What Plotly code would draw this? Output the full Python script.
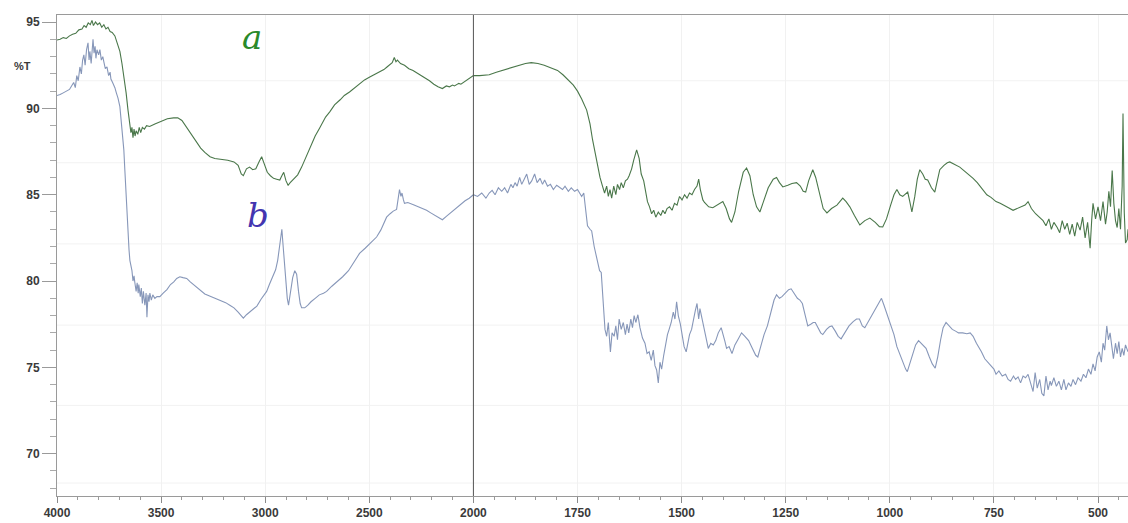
import plotly.graph_objects as go

# ---------------- data (wavenumber cm-1, %T) ----------------
a_wn = [4000,3985,3970,3955,3940,3925,3910,3895,3880,3870,3860,3850,3840,3832,3825,3815,3805,3795,3785,3775,
        3765,3755,3745,3735,3722,3710,3698,3688,3679,3668,3659,3650,3645,3640,3635,3630,3625,3620,3612,3605,
        3598,3590,3580,3570,3555,3530,3500,3470,3440,3420,3400,3386,3360,3338,3310,3290,3265,3242,3210,3180,
        3150,3130,3115,3105,3090,3075,3060,3045,3030,3017,3005,2990,2975,2960,2945,2930,2920,2911,2900,2890,
        2880,2868,2855,2844,2825,2811,2790,2777,2760,2739,2710,2690,2667,2640,2620,2595,2570,2545,2523,2500,
        2475,2451,2430,2415,2403,2390,2380,2372,2365,2350,2331,2310,2290,2269,2250,2230,2211,2190,2170,2149,
        2130,2115,2100,2091,2070,2060,2043,2025,2010,2000,1985,1970,1962,1945,1925,1905,1890,1875,1861,1845,
        1830,1815,1798,1785,1769,1760,1750,1740,1728,1720,1714,1708,1702,1696,1690,1685,1680,1676,1672,1668,
        1663,1658,1654,1649,1645,1640,1635,1630,1626,1620,1615,1608,1602,1597,1591,1586,1582,1577,1572,1567,
        1562,1556,1550,1545,1540,1535,1529,1523,1517,1511,1505,1499,1493,1487,1481,1475,1469,1463,1459,1455,
        1449,1445,1435,1425,1415,1401,1393,1385,1380,1372,1363,1352,1344,1336,1328,1320,1312,1303,1292,1280,
        1272,1265,1257,1245,1235,1224,1215,1208,1202,1195,1185,1178,1168,1160,1151,1140,1127,1120,1113,1105,
        1096,1085,1072,1060,1048,1035,1025,1017,1008,998,990,983,976,969,963,957,952,947,940,934,
        928,921,915,909,900,892,886,880,870,862,856,848,840,832,822,812,800,790,780,767,
        757,745,735,725,715,704,695,685,675,668,660,650,640,632,625,618,612,606,598,592,
        586,580,574,568,562,556,550,543,537,531,525,519,515,512,506,500,494,488,482,478,
        474,470,466,462,458,454,450,446,442,440,437,434,430,428]
a_t = [93.96,94.0,94.1,94.05,94.2,94.3,94.35,94.55,94.6,94.8,94.7,94.95,94.85,95.1,94.8,95.0,94.85,94.95,94.7,94.85,
       94.6,94.7,94.45,94.4,94.2,93.8,93.3,92.6,91.9,90.9,89.9,89.0,88.6,88.9,88.3,88.8,88.4,88.7,88.5,88.9,
       88.6,88.9,88.8,89.0,88.95,89.1,89.25,89.4,89.45,89.45,89.3,89.05,88.6,88.2,87.7,87.45,87.2,87.1,87.05,87.0,
       86.9,86.7,86.2,86.1,86.5,86.6,86.45,86.5,86.9,87.2,86.8,86.3,86.1,85.95,85.9,85.85,86.1,86.3,85.8,85.55,
       85.7,85.85,86.0,86.15,86.6,87.0,87.6,87.9,88.4,88.85,89.5,89.8,90.2,90.5,90.75,90.95,91.2,91.45,91.65,91.8,
       91.95,92.1,92.25,92.4,92.5,92.65,92.95,92.7,92.8,92.6,92.5,92.3,92.2,92.05,91.9,91.75,91.6,91.4,91.25,91.15,
       91.3,91.25,91.35,91.3,91.45,91.4,91.55,91.7,91.8,91.9,91.9,91.95,91.95,92.1,92.25,92.4,92.5,92.6,92.65,92.6,
       92.5,92.35,92.2,91.95,91.6,91.35,91.0,90.55,89.9,89.1,88.2,87.4,86.7,86.0,85.5,85.1,85.5,84.9,85.3,84.8,
       85.5,85.0,85.6,85.3,85.7,85.4,85.8,85.9,86.1,86.5,87.0,87.6,87.1,86.2,85.8,85.0,84.6,84.3,83.9,84.1,
       83.7,84.0,83.8,84.1,83.9,84.2,84.3,84.1,84.5,84.4,84.9,84.7,85.0,84.8,85.1,85.0,85.3,85.5,85.9,85.3,
       84.7,84.55,84.3,84.25,84.4,84.6,84.2,83.6,83.4,84.0,85.2,86.3,86.55,86.1,85.0,84.3,84.0,84.6,85.4,85.9,
       86.0,85.7,85.45,85.55,85.65,85.7,85.5,85.2,85.15,85.8,86.45,86.0,85.0,84.2,83.95,84.2,84.4,84.6,84.8,84.6,
       84.3,83.8,83.25,83.5,83.65,83.4,83.15,83.13,83.6,84.4,85.0,85.3,85.0,84.9,85.05,85.15,84.6,84.0,84.9,85.9,
       86.45,86.2,85.9,85.85,85.4,85.15,85.8,86.45,86.7,86.85,86.9,86.8,86.7,86.6,86.4,86.2,85.95,85.7,85.4,85.0,
       84.85,84.6,84.5,84.35,84.25,84.1,84.2,84.3,84.4,84.6,84.2,83.9,83.7,83.5,83.2,83.6,83.0,83.4,83.1,82.8,
       83.5,83.0,83.35,82.7,83.3,82.6,83.4,82.95,83.7,82.5,83.4,81.9,83.6,84.5,83.6,84.3,83.5,84.6,83.3,84.0,
       85.2,84.3,86.4,84.5,83.5,83.1,84.2,83.0,85.5,89.7,84.0,82.2,82.4,83.0]

b_wn = [4000,3985,3970,3955,3940,3930,3920,3912,3905,3898,3890,3883,3877,3871,3865,3858,3851,3846,3842,3836,
        3831,3827,3822,3817,3813,3808,3800,3794,3787,3780,3775,3768,3760,3752,3745,3741,3733,3722,3715,3707,
        3698,3693,3688,3683,3679,3674,3668,3663,3659,3654,3650,3645,3640,3635,3630,3626,3620,3615,3610,3607,
        3600,3595,3590,3585,3578,3572,3568,3563,3558,3554,3547,3540,3530,3520,3506,3490,3472,3455,3439,3425,
        3410,3395,3377,3360,3345,3329,3310,3290,3270,3250,3230,3210,3190,3170,3150,3130,3115,3105,3090,3070,
        3055,3040,3020,3005,2993,2980,2965,2950,2940,2932,2925,2920,2915,2910,2906,2900,2894,2888,2880,2868,
        2858,2849,2840,2832,2825,2810,2795,2780,2760,2740,2720,2705,2680,2655,2628,2600,2575,2547,2520,2490,
        2465,2445,2430,2417,2400,2385,2369,2360,2355,2348,2343,2336,2331,2315,2300,2285,2265,2245,2225,2205,
        2185,2165,2149,2130,2110,2090,2077,2060,2040,2020,2000,1990,1980,1970,1962,1955,1948,1940,1932,1925,
        1918,1910,1905,1900,1895,1889,1884,1878,1872,1866,1860,1853,1847,1840,1834,1829,1822,1815,1808,1800,
        1793,1786,1780,1772,1765,1757,1750,1745,1740,1735,1730,1726,1720,1716,1710,1702,1697,1693,1688,1684,
        1680,1676,1671,1667,1662,1658,1654,1650,1645,1640,1635,1631,1627,1622,1618,1614,1610,1605,1600,1594,
        1588,1583,1578,1573,1568,1564,1560,1556,1552,1548,1543,1538,1534,1530,1525,1520,1516,1512,1508,1503,
        1498,1494,1489,1485,1481,1476,1471,1467,1463,1459,1456,1452,1449,1444,1440,1436,1430,1424,1418,1412,
        1405,1400,1396,1392,1386,1379,1372,1365,1356,1348,1339,1330,1322,1317,1310,1302,1294,1285,1278,1272,
        1265,1259,1250,1243,1237,1230,1222,1216,1210,1203,1197,1190,1184,1179,1172,1166,1161,1152,1145,1139,
        1131,1124,1117,1108,1098,1088,1080,1073,1066,1060,1052,1042,1032,1025,1020,1014,1006,998,990,983,
        975,968,962,958,952,945,938,931,925,919,913,905,898,891,885,878,872,865,858,850,
        842,835,825,815,807,800,792,786,780,772,765,757,750,745,738,730,722,716,710,703,
        698,692,686,680,674,668,662,656,651,646,640,635,630,625,620,615,612,606,600,594,
        588,582,577,571,565,560,554,548,541,535,529,523,517,512,507,502,497,492,488,484,
        479,475,471,467,463,458,454,450,446,442,438,434,430,428]
b_t = [90.75,90.8,90.9,91.0,91.1,91.3,91.5,91.2,91.9,91.6,92.4,92.0,92.8,93.1,92.5,93.4,93.8,92.8,93.3,92.6,
       93.5,94.0,93.2,93.6,92.9,93.4,93.1,93.4,92.8,93.0,92.7,92.3,92.4,91.9,92.1,91.7,91.5,91.2,90.9,90.6,
       90.1,89.5,89.0,88.3,87.6,86.4,84.8,83.6,82.5,81.8,81.2,80.9,80.6,80.0,80.3,79.9,79.4,79.9,79.3,79.8,
       79.1,79.6,78.7,79.4,78.6,79.3,77.9,79.2,78.8,79.3,78.9,79.2,79.0,79.1,79.1,79.3,79.5,79.8,79.95,80.15,
       80.25,80.2,80.15,79.95,79.8,79.65,79.45,79.25,79.15,79.05,78.95,78.85,78.75,78.6,78.45,78.2,77.95,77.85,78.05,78.25,
       78.4,78.55,78.95,79.2,79.4,79.8,80.2,80.65,81.2,81.9,82.6,83.0,82.2,81.3,80.6,79.6,79.0,78.6,79.3,80.2,
       80.6,80.4,79.4,78.7,78.45,78.45,78.6,78.8,79.0,79.2,79.3,79.4,79.7,79.95,80.25,80.6,81.1,81.6,81.9,82.25,
       82.55,82.95,83.4,83.7,83.9,84.05,84.15,84.8,85.3,84.9,85.1,84.7,84.5,84.55,84.45,84.4,84.3,84.2,84.1,83.95,
       83.8,83.65,83.55,83.75,83.95,84.15,84.3,84.5,84.65,84.8,85.0,84.9,85.1,84.8,85.1,85.25,85.0,85.4,85.2,85.4,
       85.1,85.6,85.4,85.7,85.5,86.0,85.6,85.9,86.2,85.6,85.8,86.2,85.7,85.95,85.6,85.85,85.5,85.6,85.3,85.55,
       85.4,85.3,85.5,85.2,85.4,85.2,85.3,85.1,84.9,85.1,84.2,83.2,83.0,82.9,82.0,81.2,80.6,80.5,78.6,77.2,
       76.8,77.6,75.9,77.0,76.8,77.4,76.6,77.8,77.2,77.6,76.9,77.5,77.0,77.8,77.3,78.0,77.6,78.05,77.3,76.7,
       76.4,75.8,75.9,75.4,76.0,75.1,74.85,74.1,75.3,74.9,75.7,76.4,76.9,77.2,77.6,78.2,77.8,78.8,78.0,77.5,
       76.6,76.2,75.9,76.5,76.9,77.2,77.9,78.3,78.7,77.8,78.4,77.9,77.6,77.0,76.5,76.1,76.4,76.3,76.55,77.0,
       77.3,76.9,76.5,76.1,76.2,75.8,76.3,76.6,77.0,76.8,76.55,76.1,75.7,75.6,76.2,76.9,77.4,78.3,78.9,79.2,
       79.0,79.1,79.35,79.5,79.55,79.3,79.0,78.9,78.7,78.0,77.4,77.5,77.6,77.6,77.3,77.0,76.9,77.2,77.35,77.4,
       77.1,76.8,76.65,77.0,77.4,77.65,77.8,77.8,77.4,77.3,77.65,78.05,78.5,78.85,79.0,78.6,78.0,77.4,76.9,76.2,
       75.7,75.2,74.9,74.75,75.2,75.8,76.3,76.55,76.4,76.2,76.1,75.6,75.2,74.95,75.6,76.6,77.3,77.6,77.4,77.2,
       77.1,77.0,77.0,76.95,77.0,76.8,76.4,76.1,75.9,75.5,75.3,75.1,74.9,74.6,74.8,74.5,74.6,74.3,74.2,74.5,
       74.3,74.45,74.1,74.5,74.4,74.6,74.1,73.6,74.7,73.8,74.3,73.5,73.35,74.5,73.7,74.2,73.95,74.4,73.9,74.2,
       73.7,74.3,73.7,74.1,73.9,74.3,74.0,74.4,74.2,74.6,74.4,74.9,74.6,75.2,74.8,75.6,75.9,75.3,76.4,76.0,
       77.4,76.6,77.0,76.2,75.5,76.4,75.8,76.5,75.6,76.1,75.7,76.3,76.0,75.9]

x_tick_wn = [4000, 3500, 3000, 2500, 2000, 1750, 1500, 1250, 1000, 750, 500]
x_minor_wn = [w for w in range(3900, 2000, -100)] + [w for w in range(1950, 400, -50)]
y_ticks = [70, 75, 80, 85, 90, 95]
h_grid = [91.6, 86.85, 82.15, 77.45, 72.8, 68.3]


def u(w):
    """Instrument's split wavenumber scale: 500 cm-1/unit above 2000, 250 cm-1/unit below."""
    return (4000 - w) / 500.0 if w >= 2000 else 4 + (2000 - w) / 250.0


fig = go.Figure()
fig.add_trace(go.Scatter(x=[u(w) for w in b_wn], y=b_t, mode="lines",
                         line=dict(color="#8797b9", width=1.1), showlegend=False))
fig.add_trace(go.Scatter(x=[u(w) for w in a_wn], y=a_t, mode="lines",
                         line=dict(color="#4a774a", width=1.1), showlegend=False))

tickfont = dict(family="Liberation Sans", size=12, color="#3a3a3a", weight="bold")

fig.update_xaxes(range=[0, u(428)], tickmode="array",
                 tickvals=[u(w) for w in x_tick_wn], ticktext=[str(w) for w in x_tick_wn],
                 ticks="outside", ticklen=6, tickcolor="#8a8a8a", tickwidth=1,
                 showline=True, linecolor="#9a9a9a", linewidth=1, mirror=True,
                 showgrid=True, gridcolor="#f1f1f1", gridwidth=1, zeroline=False,
                 minor=dict(tickmode="array", tickvals=[u(w) for w in x_minor_wn],
                            ticks="outside", ticklen=3, tickcolor="#9a9a9a", showgrid=False),
                 tickfont=tickfont)
fig.update_yaxes(range=[67.55, 95.41], tickmode="array", tickvals=y_ticks,
                 ticks="outside", ticklen=14, tickcolor="#9a9a9a", tickwidth=1,
                 showline=True, linecolor="#9a9a9a", linewidth=1,
                 showgrid=False, zeroline=False,
                 minor=dict(dtick=1, tick0=70, ticks="outside", ticklen=6, tickcolor="#aaaaaa", showgrid=False),
                 tickfont=tickfont)

shapes = [dict(type="line", xref="x", yref="paper", x0=u(2000), x1=u(2000), y0=0, y1=1,
               line=dict(color="#555555", width=1), layer="above")]
for g in h_grid:
    shapes.append(dict(type="line", xref="paper", yref="y", x0=0, x1=1, y0=g, y1=g,
                       line=dict(color="#f2f2f2", width=1), layer="below"))

annotations = [
    dict(text="a", xref="paper", yref="paper", x=0.182, y=0.955, xanchor="center", yanchor="middle",
         showarrow=False, font=dict(family="DejaVu Serif", size=34, color="#2a8a2a", style="italic")),
    dict(text="b", xref="paper", yref="paper", x=0.188, y=0.584, xanchor="center", yanchor="middle",
         showarrow=False, font=dict(family="DejaVu Serif", size=34, color="#4435b0", style="italic")),
    dict(text="%T", xref="paper", yref="paper", x=-0.032, y=0.893, xanchor="center", yanchor="middle",
         showarrow=False, font=dict(family="Liberation Sans", size=11, color="#3a3a3a", weight="bold")),
]

fig.update_layout(width=1128, height=523, margin=dict(l=57, r=0, t=15, b=27),
                  plot_bgcolor="white", paper_bgcolor="white",
                  shapes=shapes, annotations=annotations)

fig.write_html("out.html", config={"displayModeBar": False},
               post_script="document.body.style.margin='0';document.body.style.overflow='hidden';")
